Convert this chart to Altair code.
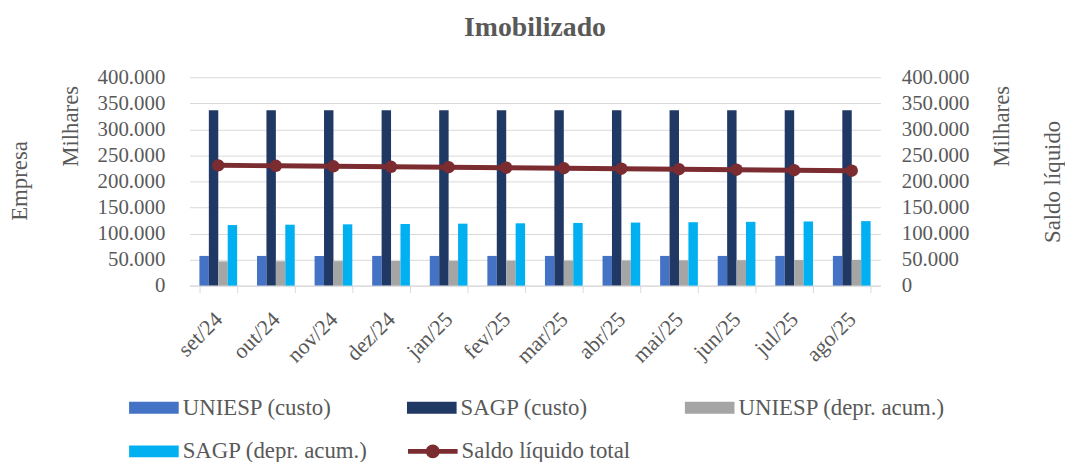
import altair as alt
import pandas as pd

months = ["set/24", "out/24", "nov/24", "dez/24", "jan/25", "fev/25",
          "mar/25", "abr/25", "mai/25", "jun/25", "jul/25", "ago/25"]
series = ["UNIESP (custo)", "SAGP (custo)", "UNIESP (depr. acum.)", "SAGP (depr. acum.)"]
line_name = "Saldo líquido total"

uniesp_custo = [57000, 57000, 57000, 57000, 57000, 57000, 57000, 57000, 57000, 57000, 57000, 57000]
sagp_custo = [336600, 336600, 336600, 336600, 336600, 336600, 336600, 336600, 336600, 336600, 336600, 336600]
uniesp_depr = [46500, 46750, 47000, 47250, 47500, 47750, 48000, 48250, 48500, 48750, 49000, 49300]
sagp_depr = [116200, 116900, 117600, 118300, 118900, 119600, 120300, 121000, 121700, 122400, 123100, 123800]
saldo = [230900, 229950, 229000, 228050, 227200, 226250, 225300, 224350, 223400, 222450, 221500, 220500]

y_ticks = [0, 50000, 100000, 150000, 200000, 250000, 300000, 350000, 400000]

colors = ["#4472C4", "#203864", "#A5A5A5", "#00B0F0"]
line_color = "#7B2C30"
text_color = "#595959"
grid_color = "#D9D9D9"
FONT = "Liberation Serif"

rows = []
for s, vals in zip(series, [uniesp_custo, sagp_custo, uniesp_depr, sagp_depr]):
    for m, v in zip(months, vals):
        rows.append({"mes": m, "serie": s, "valor": v})
bars_df = pd.DataFrame(rows)
line_df = pd.DataFrame({"mes": months, "saldo": saldo, "serie": [line_name] * len(months)})

label_expr = "replace(format(datum.value, ','), ',', '.')"
yscale = alt.Scale(domain=[0, 400000])

x_enc = alt.X(
    "mes:N", sort=months,
    scale=alt.Scale(paddingInner=0.345, paddingOuter=0.17),
    axis=alt.Axis(title=None, labelAngle=315, labelAlign="right", labelBaseline="middle",
                  labelFontSize=22, labelPadding=23, tickSize=7, tickColor=grid_color,
                  domainColor=grid_color, tickBand="extent", labelOverlap=False, grid=False),
)

rect_path = "M-1,-0.24L1,-0.24L1,0.24L-1,0.24Z"
line_path = ("M-1,-0.1L1,-0.1L1,0.1L-1,0.1Z "
             "M-0.28,0A0.28,0.28 0 1,1 0.28,0A0.28,0.28 0 1,1 -0.28,0Z")

bars = alt.Chart(bars_df).mark_bar().encode(
    x=x_enc,
    xOffset=alt.XOffset("serie:N", sort=series, scale=alt.Scale(paddingInner=0, paddingOuter=0)),
    y=alt.Y("valor:Q", scale=yscale,
            axis=alt.Axis(orient="left", values=y_ticks, labelExpr=label_expr,
                          title="Milhares", titleX=-120, titleY=49, titleAngle=270,
                          titleAlign="center", titleBaseline="middle",
                          grid=True, gridColor=grid_color, domain=False, ticks=False,
                          labelPadding=25)),
    color=alt.Color("serie:N", sort=series,
                    scale=alt.Scale(domain=series, range=colors),
                    legend=alt.Legend(orient="none", legendX=-61, legendY=308, columns=3,
                                      direction="horizontal",
                                      gridAlign="all", columnPadding=17, rowPadding=7,
                                      symbolType=rect_path, symbolSize=2500,
                                      symbolStrokeWidth=0, labelOffset=4, labelLimit=400,
                                      title=None, padding=0)),
)

line = alt.Chart(line_df).mark_line(strokeWidth=5, color=line_color).encode(
    x=alt.X("mes:N", sort=months),
    y=alt.Y("saldo:Q", scale=yscale,
            axis=alt.Axis(orient="right", values=y_ticks, labelExpr=label_expr,
                          title="Milhares", titleX=122, titleY=49, titleAngle=270,
                          titleAlign="center", titleBaseline="middle",
                          grid=False, domain=False, ticks=False, labelPadding=21)),
)

points = alt.Chart(line_df).mark_circle(size=155, opacity=1).encode(
    x=alt.X("mes:N", sort=months),
    y=alt.Y("saldo:Q", scale=yscale,
            axis=alt.Axis(orient="left", labels=False, ticks=False, domain=False, grid=False,
                          title="Empresa", titleX=-171, titleY=104, titleAngle=270,
                          titleAlign="center", titleBaseline="middle")),
    color=alt.Color("serie:N", scale=alt.Scale(domain=[line_name], range=[line_color]),
                    legend=alt.Legend(orient="none", legendX=220, legendY=352,
                                      symbolType=line_path, symbolSize=2500,
                                      symbolStrokeWidth=0, labelOffset=4, labelLimit=400,
                                      title=None, padding=0)),
)

ghost = alt.Chart(line_df).mark_line(strokeOpacity=0).encode(
    x=alt.X("mes:N", sort=months),
    y=alt.Y("saldo:Q", scale=yscale,
            axis=alt.Axis(orient="right", labels=False, ticks=False, domain=False, grid=False,
                          title="Saldo líquido", titleX=173, titleY=105, titleAngle=270,
                          titleAlign="center", titleBaseline="middle")),
)

chart = alt.layer(bars, line, points, ghost).resolve_scale(
    y="independent", color="independent"
).properties(
    width=696, height=210,
    autosize=alt.AutoSizeParams(type="none"),
    padding={"left": 183, "top": 68, "right": 186, "bottom": 176},
    title=alt.TitleParams("Imobilizado", font=FONT, fontSize=28, fontWeight="bold",
                          color=text_color, anchor="middle", offset=25),
).configure_view(stroke=None).configure_axis(
    labelFont=FONT, labelFontSize=21, labelColor=text_color,
    titleFont=FONT, titleFontSize=23, titleColor=text_color, titleFontWeight="normal",
).configure_legend(
    labelFont=FONT, labelFontSize=23, labelColor=text_color,
)

chart.save("out.html", embed_options={"renderer": "svg", "actions": False})
